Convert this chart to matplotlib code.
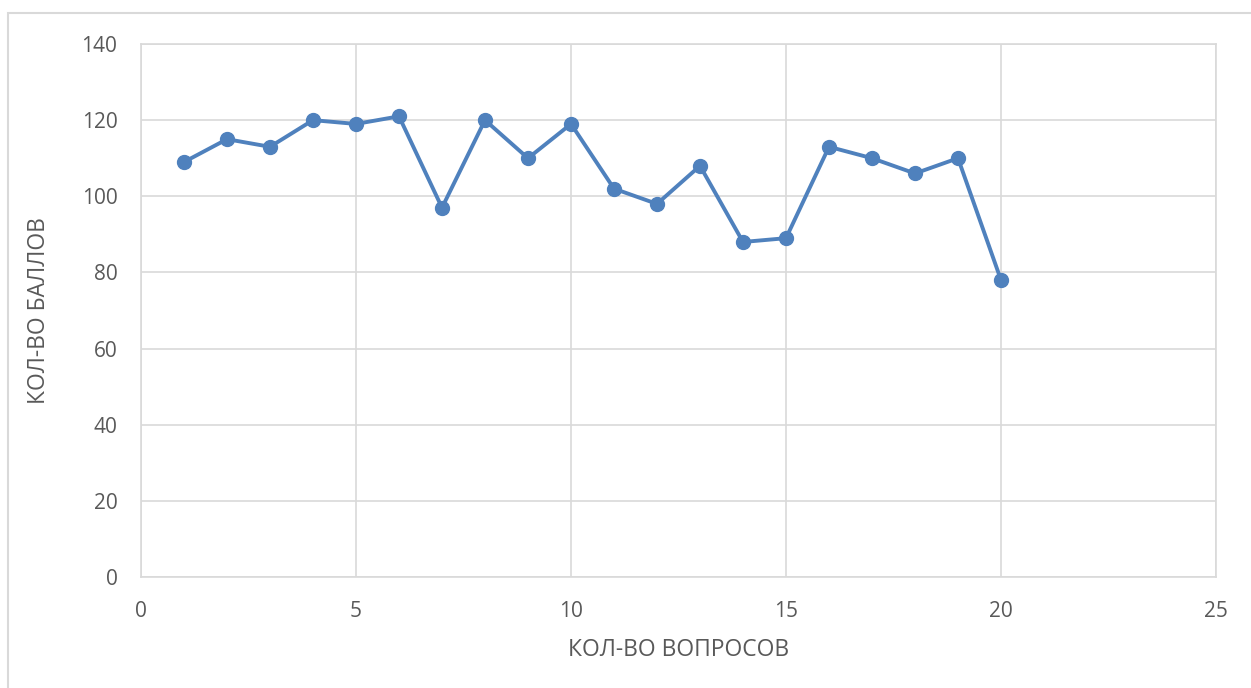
import matplotlib
matplotlib.use('Agg')
import matplotlib.pyplot as plt
from matplotlib.patches import Rectangle

# Данные
voprosy = list(range(1, 21))
bally = [109, 115, 113, 120, 119, 121, 97, 120, 110, 119,
         102, 98, 108, 88, 89, 113, 110, 106, 110, 78]
x_ticks = [0, 5, 10, 15, 20, 25]
y_ticks = [0, 20, 40, 60, 80, 100, 120, 140]

plt.rcParams['font.family'] = ['Open Sans', 'DejaVu Sans']

fig = plt.figure(figsize=(12.51, 6.88), dpi=100)
# рамка вокруг диаграммы
fig.patches.append(Rectangle((8/1251, -0.1), 1.2, (688-13)/688 + 0.1,
                             transform=fig.transFigure, fill=False,
                             edgecolor='#d9d9d9', linewidth=1.5))

ax = fig.add_axes([141/1251, (688-577)/688, (1216-141)/1251, 533/688])
ax.plot(voprosy, bally, color='#4F81BD', linewidth=2.8, marker='o',
        markersize=10, zorder=3)

ax.set_xlim(0, 25)
ax.set_ylim(0, 140)
ax.set_xticks(x_ticks)
ax.set_yticks(y_ticks)
ax.grid(True, color='#d9d9d9', linewidth=1.2)
ax.set_axisbelow(True)
for s in ax.spines.values():
    s.set_color('#d9d9d9')
    s.set_linewidth(1.2)
ax.tick_params(length=0, labelsize=15, colors='#595959')
ax.tick_params(axis='y', pad=17)
ax.tick_params(axis='x', pad=17)

ax.set_xlabel('КОЛ-ВО ВОПРОСОВ', fontsize=16.5, color='#595959', labelpad=12)
ax.set_ylabel('КОЛ-ВО БАЛЛОВ', fontsize=16.5, color='#595959', labelpad=22)

fig.savefig('out.png', dpi=100)
